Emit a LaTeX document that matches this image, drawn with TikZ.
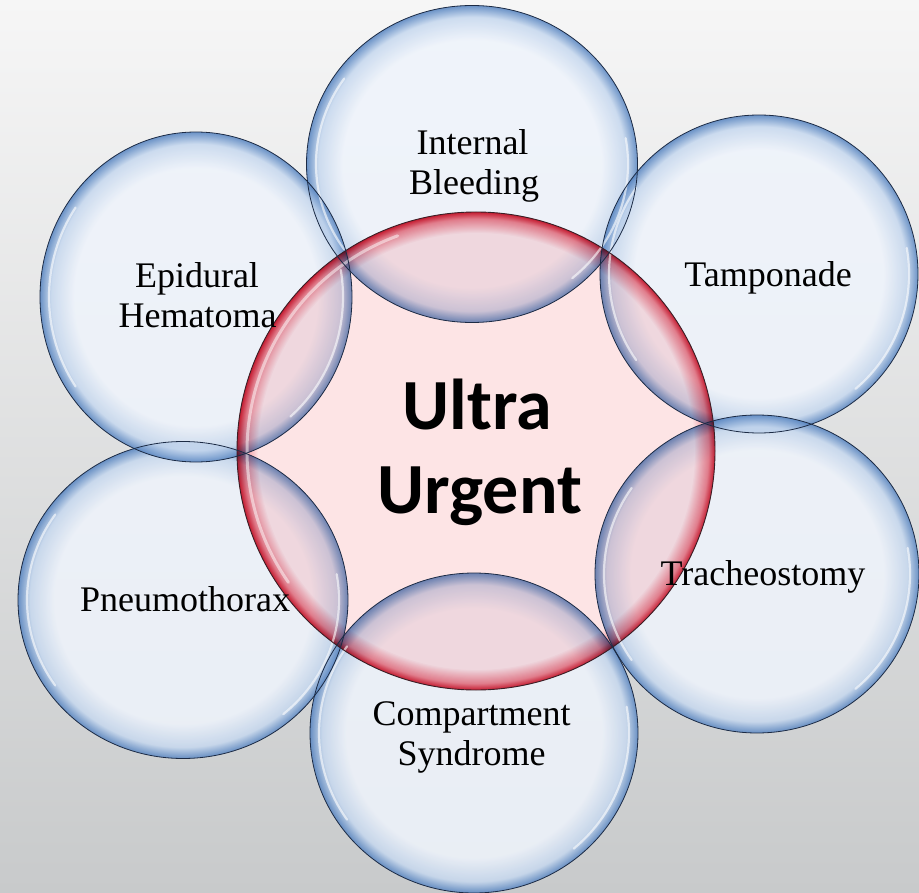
\documentclass[tikz,border=0pt]{standalone}
\usepackage{fontspec}
\setmainfont{Liberation Serif}
\newfontfamily\calibri{Carlito}
\usetikzlibrary{shapes.geometric}
\definecolor{bgtop}{HTML}{F6F6F6}
\definecolor{bgmid}{HTML}{EAEAEA}
\definecolor{bgbot}{HTML}{C8CACB}
\definecolor{bubin}{HTML}{EFF4FC}
\definecolor{bubmid}{HTML}{C6D8EF}
\definecolor{bubedge}{HTML}{5583C0}
\definecolor{pinkin}{HTML}{FDE4E5}
\definecolor{pinkmid}{HTML}{F08C97}
\definecolor{pinkedge}{HTML}{D6243A}
\definecolor{rimblue}{HTML}{1C2B45}
\definecolor{rimred}{HTML}{3A1F26}
\pgfdeclareradialshading{bubble}{\pgfpoint{0bp}{0bp}}{color(0bp)=(bubin); color(19.5bp)=(bubin); color(23.2bp)=(bubmid); color(25bp)=(bubedge); color(50bp)=(bubedge)}
\pgfdeclareradialshading{redorb}{\pgfpoint{0bp}{0bp}}{color(0bp)=(pinkin); color(22.8bp)=(pinkin); color(24.3bp)=(pinkmid); color(25bp)=(pinkedge); color(50bp)=(pinkedge)}
\tikzset{
  orb/.style={circle, inner sep=0pt, minimum size=478pt, shade, shading=redorb},
  bub/.style={ellipse, inner sep=0pt, shade, shading=bubble, fill opacity=0.85},
  rim/.style={draw=rimblue, line width=0.8pt},
  hl/.style={white, line width=2.2pt, line cap=round, opacity=0.6},
  lbl/.style={font=\fontsize{36}{40}\selectfont, anchor=base, inner sep=0pt},
  big/.style={font=\calibri\bfseries\fontsize{72}{83}\selectfont, anchor=base, inner sep=0pt}
}
\begin{document}
\begin{tikzpicture}[x=1pt, y=-1pt]
\useasboundingbox (0,0) rectangle (919,893);
\shade[top color=bgtop, middle color=bgmid, bottom color=bgbot] (0,0) rectangle (919,893);

% central circle
\node[orb] (ctr) at (476,451) {};

% outer bubbles
\node[bub, minimum width=331pt, minimum height=317pt] (ib) at (472,164) {};
\node[bub, minimum width=318pt, minimum height=318pt] (tp) at (759,274) {};
\node[bub, minimum width=324pt, minimum height=318pt] (tr) at (757,574) {};
\node[bub, minimum width=328pt, minimum height=320pt] (cs) at (474,733) {};
\node[bub, minimum width=330pt, minimum height=317pt] (pn) at (183,600) {};
\node[bub, minimum width=312pt, minimum height=330pt] (eh) at (196,297) {};

% the central circle shows through the bubbles where they overlap
\begin{scope}[blend mode=multiply]
  \clip (ib.center) ellipse[x radius=165.5pt, y radius=158.5pt]
        (tp.center) ellipse[x radius=159pt, y radius=159pt]
        (tr.center) ellipse[x radius=162pt, y radius=159pt]
        (cs.center) ellipse[x radius=164pt, y radius=160pt]
        (pn.center) ellipse[x radius=165pt, y radius=158.5pt]
        (eh.center) ellipse[x radius=156pt, y radius=165pt];
  \shade[shading=redorb] (ctr.center) circle[radius=239pt];
\end{scope}

% highlights
\draw[hl, opacity=0.5, line width=3pt] (ctr.center) ++(110:229pt) arc[start angle=110, end angle=215, radius=229pt];
\draw[hl] (ib.center) ++(145:156pt and 149pt) arc[start angle=145, end angle=215, x radius=156pt, y radius=149pt];
\draw[hl] (ib.center) ++(-50:156pt and 149pt) arc[start angle=-50, end angle=10, x radius=156pt, y radius=149pt];
\draw[hl] (tp.center) ++(145:150pt and 150pt) arc[start angle=145, end angle=215, x radius=150pt, y radius=150pt];
\draw[hl] (tp.center) ++(-50:150pt and 150pt) arc[start angle=-50, end angle=10, x radius=150pt, y radius=150pt];
\draw[hl] (tr.center) ++(145:153pt and 150pt) arc[start angle=145, end angle=215, x radius=153pt, y radius=150pt];
\draw[hl] (tr.center) ++(-50:153pt and 150pt) arc[start angle=-50, end angle=10, x radius=153pt, y radius=150pt];
\draw[hl] (cs.center) ++(145:155pt and 151pt) arc[start angle=145, end angle=215, x radius=155pt, y radius=151pt];
\draw[hl] (cs.center) ++(-50:155pt and 151pt) arc[start angle=-50, end angle=10, x radius=155pt, y radius=151pt];
\draw[hl] (pn.center) ++(145:156pt and 149pt) arc[start angle=145, end angle=215, x radius=156pt, y radius=149pt];
\draw[hl] (pn.center) ++(-50:156pt and 149pt) arc[start angle=-50, end angle=10, x radius=156pt, y radius=149pt];
\draw[hl] (eh.center) ++(145:147pt and 156pt) arc[start angle=145, end angle=215, x radius=147pt, y radius=156pt];
\draw[hl] (eh.center) ++(-50:147pt and 156pt) arc[start angle=-50, end angle=10, x radius=147pt, y radius=156pt];

% outlines
\draw[draw=rimred, line width=0.9pt] (ctr.center) circle[radius=239pt];
\draw[rim] (ib.center) ellipse[x radius=165.5pt, y radius=158.5pt];
\draw[rim] (tp.center) ellipse[x radius=159pt, y radius=159pt];
\draw[rim] (tr.center) ellipse[x radius=162pt, y radius=159pt];
\draw[rim] (cs.center) ellipse[x radius=164pt, y radius=160pt];
\draw[rim] (pn.center) ellipse[x radius=165pt, y radius=158.5pt];
\draw[rim] (eh.center) ellipse[x radius=156pt, y radius=165pt];

% labels
\node[big] (u1) at (477,430) {Ultra};
\node[big] (u2) at (480,513) {Urgent};
\node[lbl] (ib1) at (472.5,155) {Internal};
\node[lbl] (ib2) at (474,195) {Bleeding};
\node[lbl] (tp1) at (768,287) {Tamponade};
\node[lbl] (tr1) at (763,585) {Tracheostomy};
\node[lbl] (cs1) at (471.5,725) {Compartment};
\node[lbl] (cs2) at (471.5,765) {Syndrome};
\node[lbl] (pn1) at (185,611) {Pneumothorax};
\node[lbl] (eh1) at (197,288) {Epidural};
\node[lbl] (eh2) at (197.5,328) {Hematoma};
\end{tikzpicture}
\end{document}
